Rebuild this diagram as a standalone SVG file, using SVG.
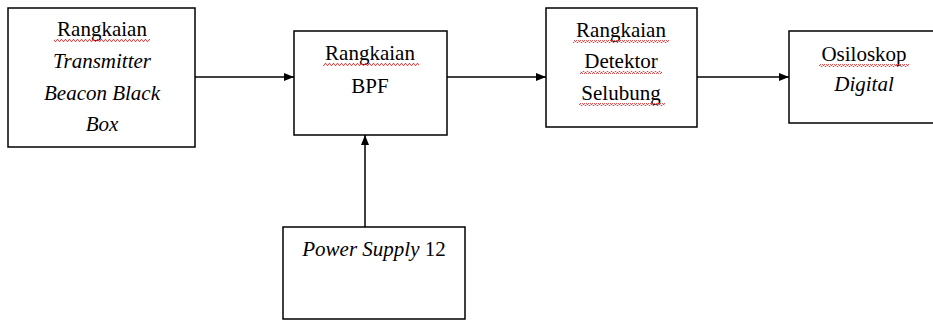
<svg xmlns="http://www.w3.org/2000/svg" width="933" height="320" viewBox="0 0 933 320">
<style>
.box{fill:#fff;stroke:#000;stroke-width:1.5}
.t{font-size:21px;fill:#000;text-anchor:middle}
.i{font-style:italic}
.edge{stroke:#000;stroke-width:1.5;fill:none;marker-end:url(#ah)}
.sq{fill:url(#squig)}
</style>
<defs>
<marker id="ah" viewBox="0 0 10 8" refX="10" refY="4" markerWidth="10" markerHeight="8" markerUnits="userSpaceOnUse" orient="auto">
<path d="M0,0 L10,4 L0,8 Z" fill="#000"/>
</marker>
<pattern id="squig" width="4" height="3" patternUnits="userSpaceOnUse">
<path d="M0,2.5 L1,0.5 L2,0.5 L3,2.5 L4,2.5" fill="none" stroke="#e02020" stroke-width="0.8"/>
</pattern>
</defs>
<rect width="933" height="320" fill="#fff"/>
<g id="connectors">
<line class="edge" x1="195" y1="77" x2="294" y2="77"/>
<line class="edge" x1="447" y1="77" x2="546" y2="77"/>
<line class="edge" x1="697" y1="77" x2="789" y2="77"/>
<line class="edge" x1="365" y1="227" x2="365" y2="135"/>
</g>
<g font-family="'Liberation Serif', 'DejaVu Serif', serif">
<g id="transmitter">
<rect class="box" x="8" y="8" width="187" height="139"/>
<text class="t" x="102" y="36">Rangkaian</text>
<rect class="sq" x="54" y="39" width="96" height="3"/>
<text class="t i" x="102" y="68">Transmitter</text>
<text class="t i" x="102" y="100">Beacon Black</text>
<text class="t i" x="102" y="131">Box</text>
</g>
<g id="bpf">
<rect class="box" x="294" y="31" width="153" height="104"/>
<text class="t" x="370" y="60">Rangkaian</text>
<rect class="sq" x="323" y="63" width="96" height="3"/>
<text class="t" x="370" y="93">BPF</text>
</g>
<g id="detektor">
<rect class="box" x="546" y="8" width="151" height="119"/>
<text class="t" x="621" y="37">Rangkaian</text>
<rect class="sq" x="573" y="40" width="96" height="3"/>
<text class="t" x="621" y="68">Detektor</text>
<rect class="sq" x="580" y="71" width="82" height="3"/>
<text class="t" x="621" y="100">Selubung</text>
<rect class="sq" x="579" y="103" width="86" height="3"/>
</g>
<g id="osiloskop">
<rect class="box" x="789" y="31" width="150" height="92"/>
<text class="t" x="864" y="61">Osiloskop</text>
<rect class="sq" x="819" y="64" width="90" height="3"/>
<text class="t i" x="864" y="91">Digital</text>
</g>
<g id="power">
<rect class="box" x="283" y="227" width="182" height="92"/>
<text class="t" x="374" y="256"><tspan class="i">Power Supply</tspan> 12</text>
</g>
</g>
</svg>
